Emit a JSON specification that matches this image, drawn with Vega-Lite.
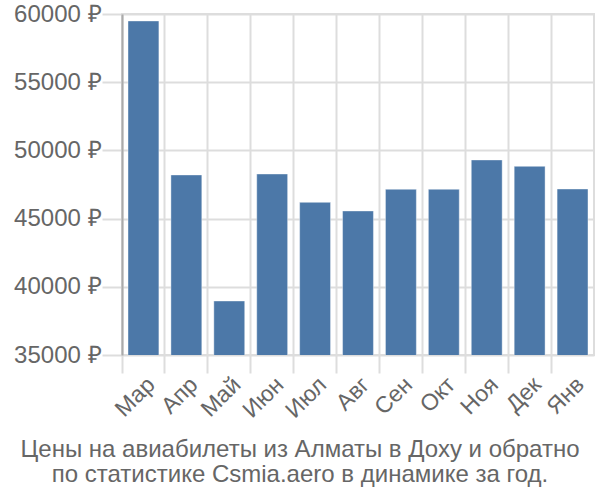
{
  "$schema": "https://vega.github.io/schema/vega-lite/v6.json",
  "autosize": "none",
  "width": 472,
  "height": 341,
  "padding": {"left": 122, "top": 14, "right": 6, "bottom": 145},
  "background": "white",
  "config": {
    "font": "Liberation Sans",
    "view": {"stroke": "#dddddd", "strokeWidth": 2},
    "axis": {"gridColor": "#dddddd", "gridWidth": 2, "labelColor": "#666666", "labelFont": "Liberation Sans"}
  },
  "title": {
    "text": ["Цены на авиабилеты из Алматы в Доху и обратно", "по статистике Csmia.aero в динамике за год."],
    "orient": "bottom",
    "color": "#666666",
    "fontSize": 24,
    "fontWeight": "normal",
    "lineHeight": 25,
    "offset": 16,
    "anchor": "middle",
    "dx": -58
  },
  "data": {
    "values": [
      {"month": "Мар", "price": 59490},
      {"month": "Апр", "price": 48200},
      {"month": "Май", "price": 38960},
      {"month": "Июн", "price": 48270},
      {"month": "Июл", "price": 46190},
      {"month": "Авг", "price": 45560},
      {"month": "Сен", "price": 47150},
      {"month": "Окт", "price": 47150},
      {"month": "Ноя", "price": 49300},
      {"month": "Дек", "price": 48830},
      {"month": "Янв", "price": 47170}
    ]
  },
  "mark": {"type": "bar", "width": {"band": 0.72}, "color": "#4c78a8", "stroke": "#ffffff", "strokeOpacity": 0.4, "strokeWidth": 1, "clip": true},
  "encoding": {
    "x": {
      "field": "month",
      "type": "nominal",
      "sort": null,
      "scale": {"paddingInner": 0, "paddingOuter": 0},
      "axis": {
        "title": null,
        "labelAngle": -45,
        "labelFontSize": 23,
        "bandPosition": 0,
        "tickSize": 18,
        "tickColor": "#dddddd",
        "tickWidth": 2,
        "domain": false,
        "grid": true,
        "labelPadding": 0
      }
    },
    "y": {
      "field": "price",
      "type": "quantitative",
      "scale": {"domain": [35000, 60000], "nice": false, "zero": false},
      "axis": {
        "title": null,
        "values": [35000, 40000, 45000, 50000, 55000, 60000],
        "labelExpr": "datum.value + ' ₽'",
        "labelFontSize": 24,
        "tickSize": 20,
        "tickColor": "#dddddd",
        "tickWidth": 2,
        "domainColor": "#aaaaaa",
        "domainWidth": 2,
        "labelPadding": 1
      }
    }
  }
}
